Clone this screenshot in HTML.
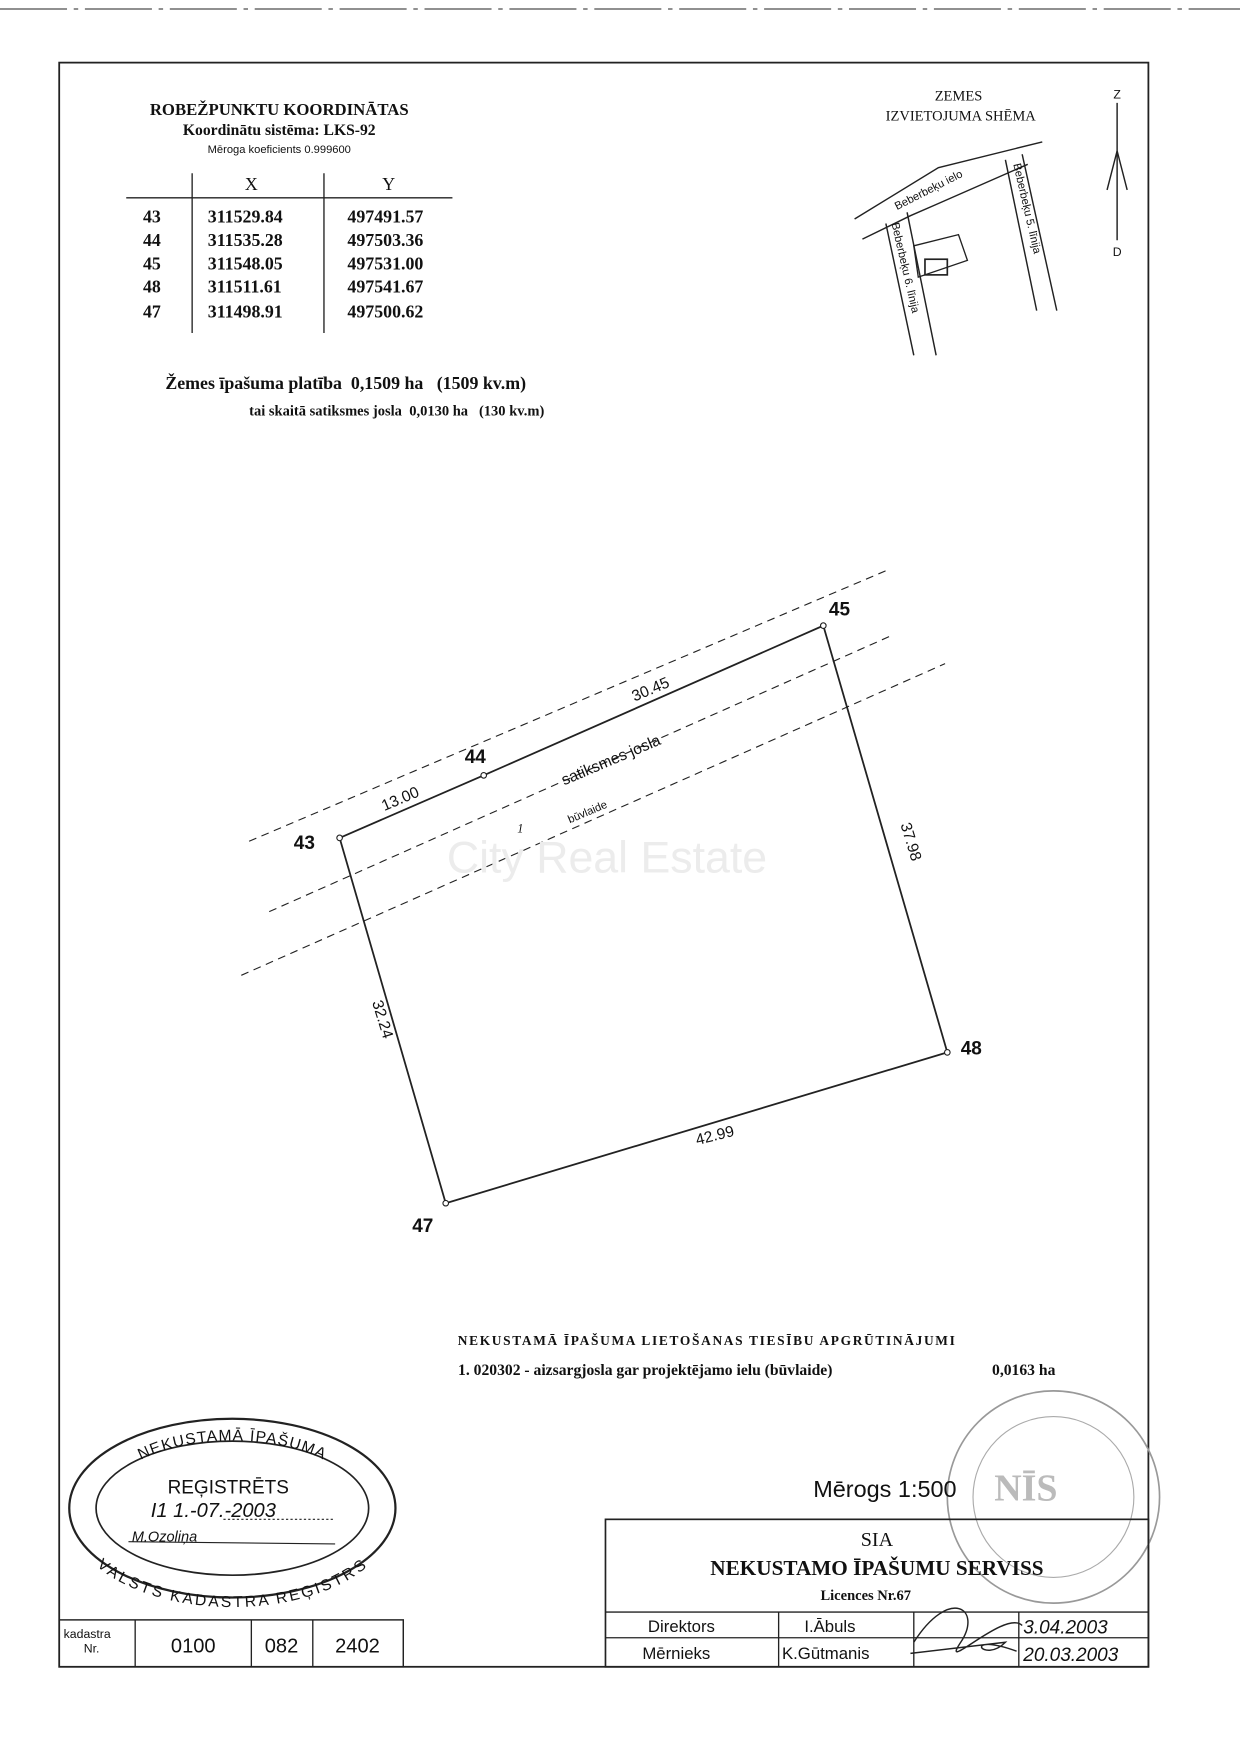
<!DOCTYPE html>
<html><head><meta charset="utf-8"><style>
html,body{margin:0;padding:0;background:#fff}
svg{display:block}
text{font-family:"Liberation Serif",serif;fill:#111}
.s, .s text{font-family:"Liberation Sans",sans-serif}
</style></head><body>
<svg width="1240" height="1754" viewBox="0 0 1110 1570" xmlns="http://www.w3.org/2000/svg">
<defs>
<path id="arcTop" d="M92,1340 A118,62 0 0 1 324,1340"/>
<path id="arcBot" d="M78,1372 A134,72 0 0 0 338,1372"/>
</defs>
<g stroke="#222" fill="none">
<line x1="0" y1="8" x2="1110" y2="8" stroke-dasharray="60 6 4 6" stroke-width="0.8"/>
<rect x="53" y="56" width="975" height="1436" stroke-width="1.6"/>
<line x1="113" y1="177" x2="405" y2="177" stroke-width="1.2"/>
<line x1="172" y1="155" x2="172" y2="298" stroke-width="1.2"/>
<line x1="290" y1="155" x2="290" y2="298" stroke-width="1.2"/>
<polygon points="304,750 433,694 737,560 848,942 399,1077" stroke-width="1.6"/>
<line x1="223" y1="753" x2="795" y2="510" stroke-dasharray="7 5" stroke-width="1"/>
<line x1="241" y1="816" x2="800" y2="568" stroke-dasharray="7 5" stroke-width="1"/>
<line x1="216" y1="873" x2="846" y2="594" stroke-dasharray="7 5" stroke-width="1"/>
<polyline points="765,196 840,150 933,127" stroke-width="1.3"/>
<polyline points="772,214 815,193 838,183 920,147" stroke-width="1.3"/>
<line x1="793" y1="200" x2="818" y2="318" stroke-width="1.3"/>
<line x1="812" y1="190" x2="838" y2="318" stroke-width="1.3"/>
<line x1="900" y1="143" x2="928" y2="278" stroke-width="1.3"/>
<line x1="915" y1="138" x2="946" y2="278" stroke-width="1.3"/>
<polygon points="818,220 858,210 866,233 822,248" stroke-width="1.2"/>
<rect x="828" y="232" width="20" height="14" stroke-width="1.5"/>
<line x1="1000" y1="92" x2="1000" y2="215" stroke-width="1.3"/>
<polyline points="991,170 1000,135 1009,170" stroke-width="1.3"/>
<ellipse cx="208" cy="1350" rx="146" ry="80" stroke-width="2"/>
<ellipse cx="208" cy="1350" rx="122" ry="60" stroke-width="1.5"/>
<line x1="115" y1="1380" x2="300" y2="1382" stroke-width="1"/>
<line x1="200" y1="1360" x2="300" y2="1360" stroke-dasharray="2 2" stroke-width="1"/>
<circle cx="943" cy="1340" r="95" stroke="#999" stroke-width="1.5"/>
<circle cx="943" cy="1340" r="72" stroke="#aaa" stroke-width="1"/>
<rect x="542" y="1360" width="486" height="132" stroke-width="1.5"/>
<line x1="542" y1="1443" x2="1028" y2="1443" stroke-width="1.2"/>
<line x1="542" y1="1466" x2="1028" y2="1466" stroke-width="1.2"/>
<line x1="697" y1="1443" x2="697" y2="1492" stroke-width="1.2"/>
<line x1="818" y1="1443" x2="818" y2="1492" stroke-width="1.2"/>
<line x1="912" y1="1443" x2="912" y2="1492" stroke-width="1.2"/>
<path d="M818,1470 C850,1420 880,1440 860,1470 S900,1440 915,1455 M815,1480 L900,1470 C880,1490 860,1460 910,1478" stroke-width="1.3"/>
<rect x="53" y="1450" width="308" height="42" stroke-width="1.3"/>
<line x1="121" y1="1450" x2="121" y2="1492" stroke-width="1.2"/>
<line x1="225" y1="1450" x2="225" y2="1492" stroke-width="1.2"/>
<line x1="280" y1="1450" x2="280" y2="1492" stroke-width="1.2"/>
</g>
<g fill="#fff" stroke="#222" stroke-width="1">
<circle cx="304" cy="750" r="2.5"/><circle cx="433" cy="694" r="2.5"/><circle cx="737" cy="560" r="2.5"/><circle cx="848" cy="942" r="2.5"/><circle cx="399" cy="1077" r="2.5"/>
</g>
<text x="250" y="103" font-size="15" font-weight="bold" text-anchor="middle">ROBEŽPUNKTU KOORDINĀTAS</text>
<text x="250" y="121" font-size="14" font-weight="bold" text-anchor="middle">Koordinātu sistēma: LKS-92</text>
<text x="250" y="137" font-size="10" class="s" text-anchor="middle">Mēroga koeficients 0.999600</text>
<text x="225" y="170" font-size="16" text-anchor="middle">X</text>
<text x="348" y="170" font-size="16" text-anchor="middle">Y</text>
<g font-size="16" style="font-weight:bold">
<text x="128" y="199">43</text><text x="186" y="199">311529.84</text><text x="311" y="199">497491.57</text>
<text x="128" y="220">44</text><text x="186" y="220">311535.28</text><text x="311" y="220">497503.36</text>
<text x="128" y="241">45</text><text x="186" y="241">311548.05</text><text x="311" y="241">497531.00</text>
<text x="128" y="262">48</text><text x="186" y="262">311511.61</text><text x="311" y="262">497541.67</text>
<text x="128" y="284">47</text><text x="186" y="284">311498.91</text><text x="311" y="284">497500.62</text>
</g>
<text x="148" y="348" font-size="16" font-weight="bold" xml:space="preserve">Žemes īpašuma platība  0,1509 ha   (1509 kv.m)</text>
<text x="223" y="372" font-size="13" font-weight="bold" xml:space="preserve">tai skaitā satiksmes josla  0,0130 ha   (130 kv.m)</text>
<text x="858" y="90" font-size="13" text-anchor="middle">ZEMES</text>
<text x="860" y="108" font-size="13" text-anchor="middle">IZVIETOJUMA SHĒMA</text>
<g class="s">
<text x="1000" y="88" font-size="11" text-anchor="middle">Z</text>
<text x="1000" y="229" font-size="11" text-anchor="middle">D</text>
<text transform="translate(803,188) rotate(-27)" font-size="10">Beberbeķu ielo</text>
<text transform="translate(907,147) rotate(77)" font-size="10">Beberbeķu 5. līnija</text>
<text transform="translate(798,200) rotate(77)" font-size="10">Beberbeķu 6. līnija</text>
<g font-size="17" font-weight="bold">
<text x="263" y="760">43</text><text x="416" y="683">44</text><text x="742" y="551">45</text><text x="860" y="944">48</text><text x="369" y="1103">47</text>
</g>
<g font-size="14">
<text transform="translate(344,726) rotate(-23)">13.00</text>
<text transform="translate(568,628) rotate(-23)">30.45</text>
<text transform="translate(505,703) rotate(-23)">satiksmes josla</text>
<text transform="translate(510,737) rotate(-23)" font-size="10">būvlaide</text>
<text transform="translate(806,738) rotate(73)">37.98</text>
<text transform="translate(333,897) rotate(73)">32.24</text>
<text transform="translate(624,1025) rotate(-14)">42.99</text>
</g>
<text x="400" y="781" font-size="40" style="fill:#ececec">City Real Estate</text>
</g>
<text x="463" y="745" font-size="11" font-style="italic">1</text>
<text x="633" y="1204" font-size="12" font-weight="bold" text-anchor="middle" letter-spacing="1.5">NEKUSTAMĀ ĪPAŠUMA LIETOŠANAS TIESĪBU APGRŪTINĀJUMI</text>
<text x="410" y="1231" font-size="14" font-weight="bold">1. 020302 - aizsargjosla gar projektējamo ielu (būvlaide)</text>
<text x="888" y="1231" font-size="14" font-weight="bold">0,0163 ha</text>
<g class="s">
<text font-size="14" letter-spacing="1"><textPath href="#arcTop" startOffset="50%" text-anchor="middle">NEKUSTAMĀ ĪPAŠUMA</textPath></text>
<text font-size="14" letter-spacing="1.5" dy="12"><textPath href="#arcBot" startOffset="50%" text-anchor="middle">VALSTS KADASTRA REĢISTRS</textPath></text>
<text x="150" y="1337" font-size="17">REĢISTRĒTS</text>
<text x="135" y="1358" font-size="18" font-style="italic">I1 1.-07.-2003</text>
<text x="118" y="1380" font-size="13" font-style="italic">M.Ozoliņa</text>
<text x="728" y="1340" font-size="21">Mērogs 1:500</text>
<text x="580" y="1461" font-size="15">Direktors</text><text x="720" y="1461" font-size="15">I.Ābuls</text>
<text x="575" y="1485" font-size="15">Mērnieks</text><text x="700" y="1485" font-size="15">K.Gūtmanis</text>
<text x="916" y="1462" font-style="italic" font-size="17">3.04.2003</text>
<text x="916" y="1487" font-style="italic" font-size="17">20.03.2003</text>
<text x="57" y="1466" font-size="11">kadastra</text><text x="75" y="1479" font-size="11">Nr.</text>
<text x="173" y="1479" font-size="18" text-anchor="middle">0100</text>
<text x="252" y="1479" font-size="18" text-anchor="middle">082</text>
<text x="320" y="1479" font-size="18" text-anchor="middle">2402</text>
</g>
<text x="890" y="1343" font-size="34" font-weight="bold" style="fill:#bbb">NĪS</text>
<text x="785" y="1384" font-size="18" text-anchor="middle">SIA</text>
<text x="785" y="1410" font-size="19" font-weight="bold" text-anchor="middle">NEKUSTAMO ĪPAŠUMU SERVISS</text>
<text x="775" y="1432" font-size="13" font-weight="bold" text-anchor="middle">Licences Nr.67</text>
</svg>
</body></html>
